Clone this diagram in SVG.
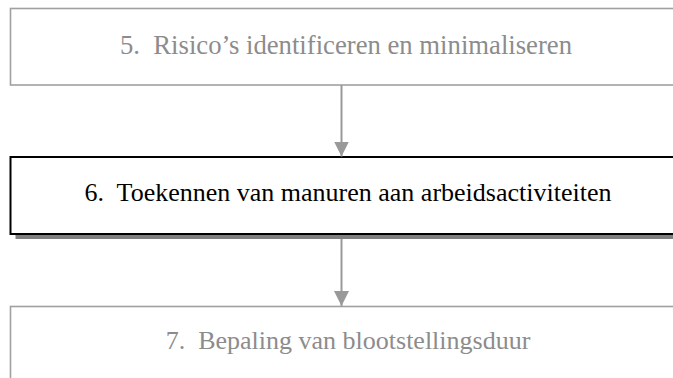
<svg xmlns="http://www.w3.org/2000/svg" width="673" height="378" viewBox="0 0 673 378">
<style>
.box-dim{fill:#ffffff;stroke:#a0a0a0;stroke-width:1.6}
.box-main{fill:#ffffff;stroke:#000000;stroke-width:2}
.shadow{fill:#808080}
.lbl{font-family:"Liberation Serif","Times New Roman",serif;font-size:26px;text-anchor:middle;white-space:pre}
.lbl-dim{fill:#8c8c8c}
.lbl-main{fill:#000000}
.conn{stroke:#999999;stroke-width:2;fill:none}
</style>
<defs>
<marker id="ah" markerUnits="userSpaceOnUse" markerWidth="16" markerHeight="16" refX="15" refY="7.5" orient="auto">
<path d="M0,0 L15,7.5 L0,15 Z" fill="#999999"/>
</marker>
</defs>
<rect width="673" height="378" fill="#ffffff"/>
<g id="node5">
<rect class="box-dim" x="10.5" y="8.5" width="690" height="76.5"/>
<text class="lbl lbl-dim" x="346" y="53.5" style="font-size:26.7px">5.  Risico’s identificeren en minimaliseren</text>
</g>
<g id="node6">
<rect class="shadow" x="15.5" y="161.5" width="690" height="77.5"/>
<rect class="box-main" x="10.5" y="157" width="690" height="77"/>
<text class="lbl lbl-main" x="348" y="200.5">6.  Toekennen van manuren aan arbeidsactiviteiten</text>
</g>
<g id="node7">
<rect class="box-dim" x="10.5" y="306.5" width="690" height="90"/>
<text class="lbl lbl-dim" x="348" y="348.5">7.  Bepaling van blootstellingsduur</text>
</g>
<g id="connectors">
<line class="conn" x1="341.5" y1="85" x2="341.5" y2="156.5" marker-end="url(#ah)"/>
<line class="conn" x1="341.5" y1="239" x2="341.5" y2="306" marker-end="url(#ah)"/>
</g>
</svg>
